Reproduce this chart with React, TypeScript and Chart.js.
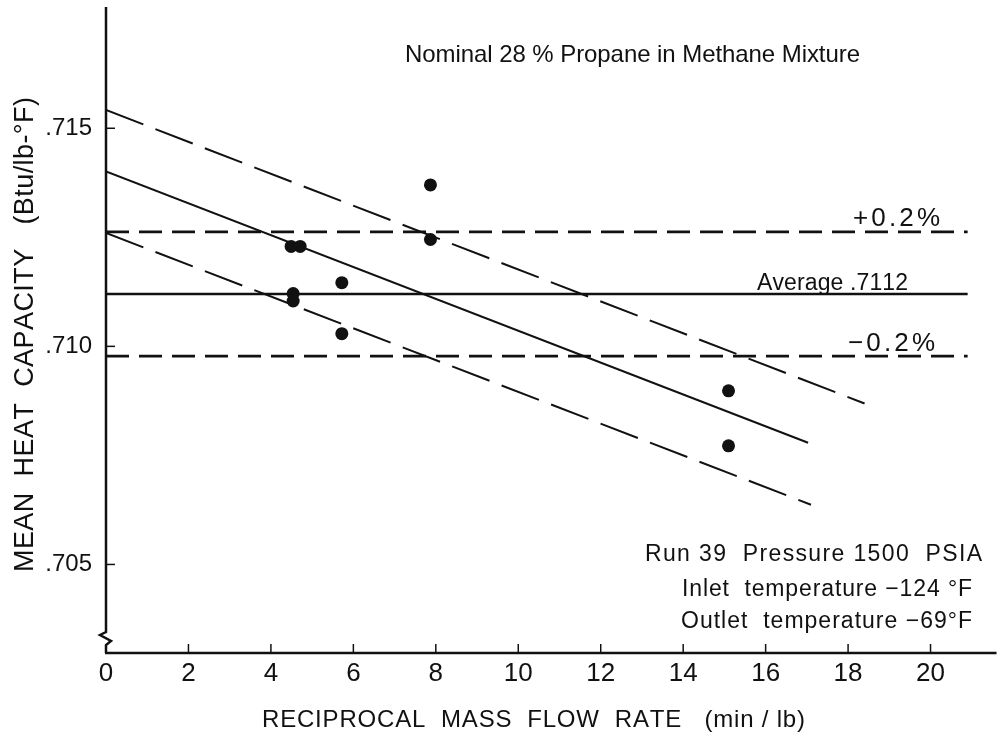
import React, { useEffect, useRef } from "react";
import { Chart, registerables } from "chart.js";

Chart.register(...registerables);

// Measured runs: reciprocal mass flow rate (min/lb) vs mean heat capacity (Btu/lb-°F)
const flowRate = [7.87, 7.87, 4.49, 4.71, 4.54, 4.54, 5.72, 5.72, 15.1, 15.1];
const heatCapacity = [0.7137, 0.71245, 0.71229, 0.71229, 0.71121, 0.71104, 0.71146, 0.71029, 0.70898, 0.70772];

// Average of the runs and the ±0.2 % band around it
const average = 0.7112;
const bandPercent = 0.2;
const averageSpan = [0, 20.9];

// Least-squares trend and its upper / lower limit lines (x, y end points)
const trendX = [0, 17.03];
const trendY = [0.71401, 0.70779];
const upperX = [0, 18.4];
const upperY = [0.71542, 0.70869];
const lowerX = [0, 17.1];
const lowerY = [0.7126, 0.70637];

// Axis ranges and ticks
const xRange = [0, 21.6];
const yRange = [0.70297, 0.71778];
const xTicks = [0, 2, 4, 6, 8, 10, 12, 14, 16, 18, 20];
const yTicks = [0.705, 0.71, 0.715];

const INK = "#111";
const FONT = "'Liberation Sans', Arial, sans-serif";

const pts = (xs: number[], ys: number[]) => xs.map((x, i) => ({ x, y: ys[i] }));

// Draws text char by char, spreading it between x0 and x1 on the given baseline
function drawSpaced(ctx: CanvasRenderingContext2D, text: string, size: number, x0: number, x1: number, baseline: number) {
  ctx.font = `${size}px ${FONT}`;
  const chars = Array.from(text);
  const widths = chars.map((c) => ctx.measureText(c).width);
  const natural = widths.reduce((a, b) => a + b, 0);
  const gap = chars.length > 1 ? (x1 - x0 - natural) / (chars.length - 1) : 0;
  ctx.textAlign = "left";
  ctx.textBaseline = "alphabetic";
  let x = x0;
  chars.forEach((c, i) => {
    ctx.fillText(c, x, baseline);
    x += widths[i] + gap;
  });
}

const decorations = {
  id: "decorations",
  afterDraw(chart: any) {
    const { ctx, chartArea, scales } = chart;
    const { left, right, top, bottom } = chartArea;
    ctx.save();
    ctx.strokeStyle = INK;
    ctx.fillStyle = INK;
    ctx.lineCap = "butt";

    // y axis with a break mark near its foot
    ctx.lineWidth = 2.5;
    ctx.beginPath();
    ctx.moveTo(left, top);
    ctx.lineTo(left, bottom - 21);
    ctx.lineTo(left - 6, bottom - 18);
    ctx.lineTo(left + 5, bottom - 12);
    ctx.lineTo(left, bottom - 8);
    ctx.lineTo(left, bottom);
    ctx.stroke();

    // x axis
    ctx.beginPath();
    ctx.moveTo(left - 1, bottom);
    ctx.lineTo(right, bottom);
    ctx.stroke();

    // inward tick marks
    ctx.lineWidth = 1.5;
    xTicks.forEach((v) => {
      if (v === 0) return;
      const px = scales.x.getPixelForValue(v);
      ctx.beginPath();
      ctx.moveTo(px, bottom);
      ctx.lineTo(px, bottom - 9);
      ctx.stroke();
    });
    yTicks.forEach((v) => {
      const py = scales.y.getPixelForValue(v);
      ctx.beginPath();
      ctx.moveTo(left, py);
      ctx.lineTo(left + 9, py);
      ctx.stroke();
    });

    // annotations; band labels sit just above their lines
    const yPx = (v: number) => scales.y.getPixelForValue(v);
    const plus = average * (1 + bandPercent / 100);
    const minus = average * (1 - bandPercent / 100);
    drawSpaced(ctx, "Nominal 28 % Propane in Methane Mixture", 24, 405, 860, 62);
    drawSpaced(ctx, `+${bandPercent.toFixed(1)}%`, 26, 853, 940, yPx(plus) - 6);
    drawSpaced(ctx, `Average ${average.toFixed(4).slice(1)}`, 23, 757, 908, yPx(average) - 4);
    drawSpaced(ctx, `\u2212${bandPercent.toFixed(1)}%`, 26, 848, 935, yPx(minus) - 5);
    drawSpaced(ctx, "Run 39  Pressure 1500  PSIA", 23, 645, 982, 561);
    drawSpaced(ctx, "Inlet  temperature \u2212124 °F", 23, 682, 972, 596);
    drawSpaced(ctx, "Outlet  temperature \u221269°F", 23, 681, 972, 628);

    // axis titles
    drawSpaced(ctx, "RECIPROCAL  MASS  FLOW  RATE   (min / lb)", 24, 262, 805, 727);
    ctx.translate(33, 572);
    ctx.rotate(-Math.PI / 2);
    drawSpaced(ctx, "MEAN  HEAT  CAPACITY   (Btu/lb-°F)", 27, 0, 475, 0);
    ctx.restore();
  },
};

export default function App() {
  const canvasRef = useRef<HTMLCanvasElement | null>(null);

  useEffect(() => {
    const canvas = canvasRef.current;
    if (!canvas) return;

    const plus = average * (1 + bandPercent / 100);
    const minus = average * (1 - bandPercent / 100);

    const lineSet = (data: { x: number; y: number }[], width: number, dash: number[]) => ({
      type: "line" as const,
      data,
      borderColor: INK,
      borderWidth: width,
      borderDash: dash,
      pointRadius: 0,
      fill: false,
      tension: 0,
    });

    const chart = new Chart(canvas, {
      type: "scatter",
      data: {
        datasets: [
          {
            data: pts(flowRate, heatCapacity),
            pointRadius: 6.5,
            pointBackgroundColor: INK,
            pointBorderWidth: 0,
          } as any,
          lineSet(pts(averageSpan, [average, average]), 2.5, []),
          lineSet(pts(averageSpan, [plus, plus]), 2.8, [23, 10]),
          lineSet(pts(averageSpan, [minus, minus]), 2.8, [23, 10]),
          lineSet(pts(trendX, trendY), 2, []),
          lineSet(pts(upperX, upperY), 2, [40, 13]),
          lineSet(pts(lowerX, lowerY), 2, [40, 13]),
        ],
      },
      options: {
        responsive: false,
        animation: false,
        events: [],
        layout: { padding: { top: 7, right: 3, left: 0, bottom: 0 } },
        plugins: {
          legend: { display: false },
          tooltip: { enabled: false },
          title: { display: false },
        },
        scales: {
          x: {
            type: "linear",
            min: xRange[0],
            max: xRange[1],
            afterBuildTicks: (s: any) => {
              s.ticks = xTicks.map((value) => ({ value }));
            },
            afterFit: (s: any) => {
              s.height = 89;
              s.paddingLeft = 0;
              s.paddingRight = 0;
            },
            grid: { display: false, drawTicks: false },
            border: { display: false },
            ticks: {
              padding: 5,
              color: INK,
              autoSkip: false,
              maxRotation: 0,
              font: { family: FONT, size: 26 },
              callback: (v: any) => String(v),
            },
          },
          y: {
            type: "linear",
            min: yRange[0],
            max: yRange[1],
            afterBuildTicks: (s: any) => {
              s.ticks = yTicks.map((value) => ({ value }));
            },
            afterFit: (s: any) => {
              s.width = 106;
              s.paddingTop = 0;
              s.paddingBottom = 0;
            },
            grid: { display: false, drawTicks: false },
            border: { display: false },
            ticks: {
              padding: 14,
              color: INK,
              font: { family: FONT, size: 24 },
              callback: (v: any) => Number(v).toFixed(3).slice(1),
            },
          },
        },
      },
      plugins: [decorations],
    });

    return () => chart.destroy();
  }, []);

  return (
    <div style={{ position: "absolute", left: 0, top: 0, width: 1003, height: 742, background: "#fff" }}>
      <canvas ref={canvasRef} width={1003} height={742} style={{ display: "block" }} />
    </div>
  );
}
